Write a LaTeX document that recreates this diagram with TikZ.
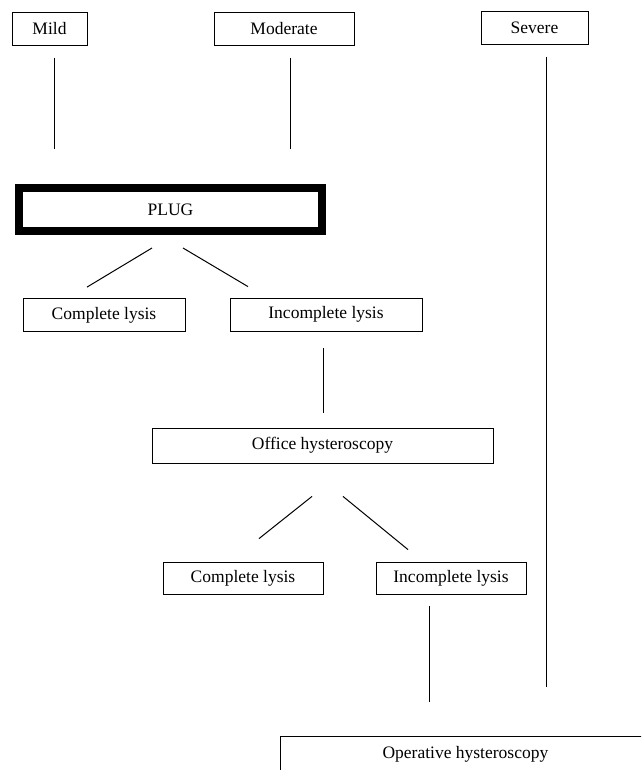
\documentclass[tikz,border=0pt]{standalone}
\usepackage{fontspec}
\setmainfont{Liberation Serif}
\usetikzlibrary{
    positioning,
    calc
    }

\begin{document}
\begin{tikzpicture}[x=1pt, y=-1pt]
\tikzset{box/.style =
        {
            rectangle,
            draw,
            line width=0.8pt,
            inner sep=0pt,
            minimum height=33pt,
            font=\fontsize{17.5}{21}\selectfont
        }
}

\tikzset{plugbox/.style =
        {
            box,
            line width=8pt,
            minimum width=303pt,
            minimum height=43pt
        }
}

\tikzset{link/.style =
        {
            line width=1pt
        }
}

		\clip (0,0) rectangle (641,770);

		% grades
		\node[box, minimum width=75pt] (mild) at (49.5,29) {Mild};
		\node[box, minimum width=140pt] (moderate) at (284,29) {Moderate};
		\node[box, minimum width=107pt] (severe) at (534.5,28) {Severe};

		\node[plugbox] (plug) at (170.5,209.5) {PLUG};

		\node[box, minimum width=162pt] (cl1) at (104,315) {Complete lysis};
		\node[box, minimum width=192pt] (il1) at (326,314.5) {Incomplete lysis};

		\node[box, minimum width=341pt, minimum height=35pt] (office) at (322.5,445.5) {Office hysteroscopy};

		\node[box, minimum width=160pt, minimum height=32pt] (cl2) at (243,578) {Complete lysis};
		\node[box, minimum width=150pt, minimum height=32pt] (il2) at (451,578) {Incomplete lysis};

		% cut off by the page edge
		\node[box, minimum width=370pt, minimum height=36pt, anchor=north west] (operative) at (280,736) {Operative hysteroscopy};

		\draw[link, shorten <=12pt, shorten >=35pt] (mild.south -| 54,0) -- (plug.north -| 54,0);
		\draw[link, shorten <=12pt, shorten >=35pt] (moderate.south -| 290,0) -- (plug.north -| 290,0);
		\draw[link, shorten <=12pt, shorten >=49pt] (severe.south -| 546,0) -- (operative.north -| 546,0);

		\draw[link] ($(plug.south)+(-18.5,13)$) -- ($(cl1.north)+(-17,-11)$);
		\draw[link] ($(plug.south)+(12.5,13)$) -- ($(il1.north)+(-78,-11)$);

		\draw[link, shorten <=17pt, shorten >=15pt] (il1.south -| 323,0) -- (office.north -| 323,0);

		\draw[link] ($(office.south)+(-10.5,33)$) -- ($(cl2.north)+(16,-23)$);
		\draw[link] ($(office.south)+(20.5,33)$) -- ($(il2.north)+(-43,-12)$);

		\draw[link, shorten <=12pt, shorten >=34pt] (il2.south -| 429,0) -- (operative.north -| 429,0);

	\end{tikzpicture}
\end{document}
